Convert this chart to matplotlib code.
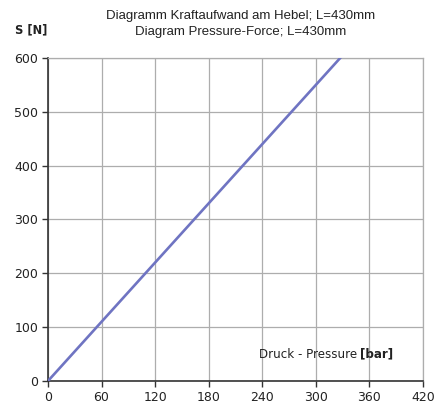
import matplotlib
matplotlib.use("Agg")
import matplotlib.pyplot as plt

pressure = [0, 60, 120, 180, 240, 300, 360]
force = [0, 110, 220, 330, 440, 550, 660]
x_ticks = [0, 60, 120, 180, 240, 300, 360, 420]
y_ticks = [0, 100, 200, 300, 400, 500, 600]

FONT = "DejaVu Sans"
fig = plt.figure(figsize=(4.35, 4.05), dpi=100)
ax = fig.add_axes([0.1103, 0.0593, 0.8621, 0.7975])

ax.plot(pressure, force, color="#6f74c2", lw=1.9, solid_capstyle="butt", zorder=3)
ax.set_xlim(0, 420)
ax.set_ylim(0, 600)
ax.set_xticks(x_ticks)
ax.set_yticks(y_ticks)
ax.grid(True, color="#adadad", lw=0.9, zorder=1)
for s in ["top", "right"]:
    ax.spines[s].set_color("#adadad")
    ax.spines[s].set_linewidth(0.9)
for s in ["left", "bottom"]:
    ax.spines[s].set_color("#333333")
    ax.spines[s].set_linewidth(1.2)
ax.tick_params(direction="out", length=4, width=1, color="#333333",
               labelsize=9, labelcolor="#222222", pad=3)
for lab in ax.get_xticklabels() + ax.get_yticklabels():
    lab.set_fontfamily(FONT)

LS = 8.6
fig.canvas.draw()
r = fig.canvas.get_renderer()
tmp = ax.text(0, 0, "[bar]", fontsize=LS, family=FONT, fontweight="bold")
w = tmp.get_window_extent(r).width
tmp.remove()
xr = ax.transData.transform((387, 50))
xb_left = ax.transData.inverted().transform((xr[0] - w, xr[1]))[0]
ax.text(xb_left, 50, "[bar]", ha="left", va="center", fontsize=LS,
        family=FONT, fontweight="bold", color="#222222", zorder=4)
ax.text(xb_left, 50, "Druck - Pressure ", ha="right", va="center", fontsize=LS,
        family=FONT, color="#222222", zorder=4)

fig.text(0.554, 0.96, "Diagramm Kraftaufwand am Hebel; L=430mm", ha="center", va="center",
         fontsize=9.5, family="Liberation Sans", color="#222222")
fig.text(0.554, 0.92, "Diagram Pressure-Force; L=430mm", ha="center", va="center",
         fontsize=9.5, family="Liberation Sans", color="#222222")
fig.text(0.072, 0.925, "S [N]", ha="center", va="center", fontsize=8.3,
         family=FONT, fontweight="bold", color="#222222")

fig.savefig("out.png", dpi=100)
